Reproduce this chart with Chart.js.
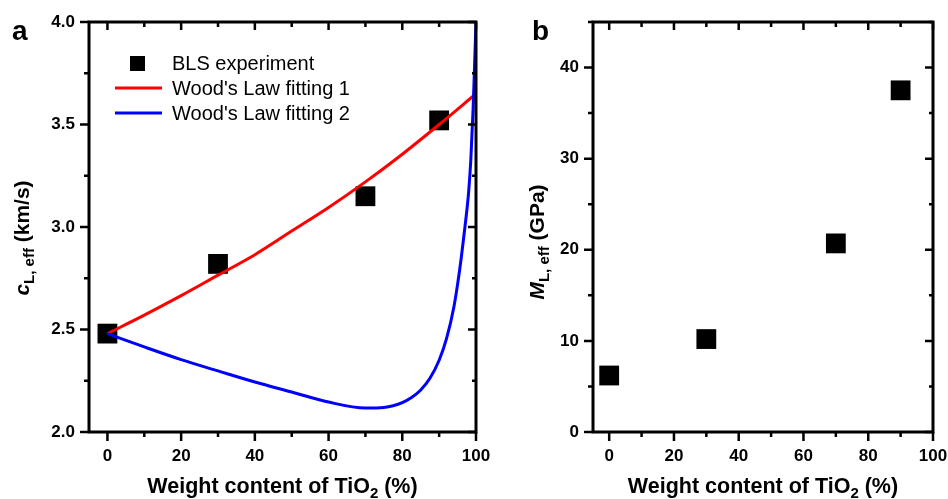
<!DOCTYPE html>
<html>
<head>
<meta charset="utf-8">
<script src="https://cdn.jsdelivr.net/npm/chart.js@4.4.0/dist/chart.umd.min.js"></script>
<style>
    html, body { margin: 0; padding: 0; background: #fff; }
    #wrapA { position: absolute; left: 0; top: 0; width: 490px; height: 499px; }
    #wrapB { position: absolute; left: 490px; top: 0; width: 458px; height: 499px; }
</style>
</head>
<body>
<div id="wrapA"><canvas id="chartA"></canvas></div>
<div id="wrapB"><canvas id="chartB"></canvas></div>
<script>
// Painel a: velocidade longitudinal efetiva
const blsX = [0, 30, 70, 90];
const blsY = [2.48, 2.82, 3.15, 3.52];
const fit1X = [0, 10, 20, 30, 40, 50, 60, 70, 80, 90, 100];
const fit1Y = [2.48, 2.57, 2.665, 2.765, 2.865, 2.98, 3.095, 3.22, 3.355, 3.50, 3.65];
const fit2X = [0, 10, 20, 30, 40, 50, 60, 70, 75, 77.5, 80, 82.5, 85, 87.5, 90, 92, 94, 95, 96, 97, 98, 98.6, 99.2, 99.6, 100];
const fit2Y = [2.48, 2.415, 2.353, 2.298, 2.244, 2.195, 2.146, 2.117, 2.12, 2.128, 2.143, 2.168, 2.205, 2.262, 2.35, 2.455, 2.61, 2.72, 2.85, 3.0, 3.17, 3.33, 3.57, 3.78, 4.0];
const xTicks = [0, 20, 40, 60, 80, 100];
const yTicksA = [2.0, 2.5, 3.0, 3.5, 4.0];

// Painel b: módulo longitudinal efetivo
const modX = [0, 30, 70, 90];
const modY = [6.2, 10.2, 20.7, 37.5];
const yTicksB = [0, 10, 20, 30, 40];

const FONT = '"Liberation Sans", Arial, sans-serif';
const tickFont = { family: FONT, size: 17, weight: 'bold' };

const pts = (xs, ys) => xs.map((x, i) => ({ x: x, y: ys[i] }));

// desenha texto com partes em itálico / subscrito
function drawSegs(ctx, segs, cx, y) {
    const widths = segs.map(s => {
        ctx.font = (s.italic ? 'italic ' : '') + 'bold ' + s.size + 'px ' + FONT;
        return ctx.measureText(s.text).width;
    });
    let x = cx - widths.reduce((a, b) => a + b, 0) / 2;
    segs.forEach((s, i) => {
        ctx.font = (s.italic ? 'italic ' : '') + 'bold ' + s.size + 'px ' + FONT;
        ctx.fillText(s.text, x, y + (s.dy || 0));
        x += widths[i];
    });
}

// moldura estilo Origin com ticks maiores e menores
const framePlugin = {
    id: 'frame',
    afterDraw(chart, args, opts) {
        const { ctx, chartArea: a, scales } = chart;
        const xs = scales.x, ys = scales.y;
        ctx.save();
        ctx.strokeStyle = '#000';
        ctx.lineWidth = 3;
        ctx.strokeRect(a.left, a.top, a.right - a.left, a.bottom - a.top);
        ctx.lineWidth = 2.5;
        ctx.beginPath();
        for (let v = 0; v <= 100.001; v += 10) {
            const px = xs.getPixelForValue(v);
            const major = xTicks.includes(Math.round(v));
            ctx.moveTo(px, a.bottom);
            ctx.lineTo(px, a.bottom + (major ? 9 : 5));
            ctx.moveTo(px, a.top);
            ctx.lineTo(px, a.top + (major ? 8 : 5));
        }
        for (let v = opts.yMin; v <= opts.yMax + 1e-6; v += opts.yMinor) {
            const py = ys.getPixelForValue(v);
            const major = opts.yMajor.some(t => Math.abs(t - v) < 1e-6);
            ctx.moveTo(a.left, py);
            ctx.lineTo(a.left - (major ? 9 : 5), py);
            ctx.moveTo(a.right, py);
            ctx.lineTo(a.right - (major ? 8 : 4), py);
        }
        ctx.stroke();

        // títulos dos eixos e letra do painel
        ctx.fillStyle = '#000';
        ctx.textBaseline = 'alphabetic';
        drawSegs(ctx, [
            { text: 'Weight content of TiO', size: 21.5 },
            { text: '2', size: 15, dy: 5 },
            { text: ' (%)', size: 21.5 }
        ], (a.left + a.right) / 2, 493);

        ctx.save();
        ctx.translate(opts.yTitleX, opts.yTitleY);
        ctx.rotate(-Math.PI / 2);
        drawSegs(ctx, opts.yTitle, 0, 0);
        ctx.restore();

        ctx.font = 'bold 28px ' + FONT;
        ctx.fillText(opts.letter, opts.letterX, 40);
        ctx.restore();
    }
};

// legenda desenhada dentro da área do gráfico (painel a)
const legendPlugin = {
    id: 'innerLegend',
    afterDraw(chart) {
        const ctx = chart.ctx;
        ctx.save();
        ctx.font = '20px ' + FONT;
        ctx.fillStyle = '#000';
        ctx.textBaseline = 'middle';
        ctx.fillRect(130, 56, 15, 15);
        ctx.fillText('BLS experiment', 172, 64);
        ctx.lineWidth = 3;
        ctx.strokeStyle = '#ff0000';
        ctx.beginPath(); ctx.moveTo(115, 88); ctx.lineTo(162, 88); ctx.stroke();
        ctx.fillText("Wood's Law fitting 1", 172, 89);
        ctx.strokeStyle = '#0000ff';
        ctx.beginPath(); ctx.moveTo(115, 113); ctx.lineTo(162, 113); ctx.stroke();
        ctx.fillText("Wood's Law fitting 2", 172, 114);
        ctx.restore();
    }
};

function axisOptions(yMin, yMax, yTicks, yWidth, fmt) {
    return {
        x: {
            type: 'linear', min: -5, max: 100,
            afterBuildTicks: s => { s.ticks = xTicks.map(v => ({ value: v })); },
            afterFit: s => { s.height = 67; s.paddingLeft = 0; s.paddingRight = 0; },
            ticks: { color: '#000', font: tickFont, padding: 14 },
            grid: { display: false, drawTicks: false },
            border: { display: false }
        },
        y: {
            type: 'linear', min: yMin, max: yMax,
            afterBuildTicks: s => { s.ticks = yTicks.map(v => ({ value: v })); },
            afterFit: s => { s.width = yWidth; s.paddingTop = 0; s.paddingBottom = 0; },
            ticks: { color: '#000', font: tickFont, padding: 14, callback: fmt },
            grid: { display: false, drawTicks: false },
            border: { display: false }
        }
    };
}

const baseOptions = {
    responsive: true,
    maintainAspectRatio: false,
    animation: false,
    events: [],
    plugins: { legend: { display: false }, tooltip: { enabled: false } }
};

new Chart(document.getElementById('chartA'), {
    type: 'scatter',
    data: {
        datasets: [
            {
                label: "Wood's Law fitting 2",
                data: pts(fit2X, fit2Y),
                showLine: true, borderColor: '#0000ff', borderWidth: 3,
                pointRadius: 0, cubicInterpolationMode: 'monotone', order: 0
            },
            {
                label: "Wood's Law fitting 1",
                data: pts(fit1X, fit1Y),
                showLine: true, borderColor: '#ff0000', borderWidth: 3,
                pointRadius: 0, cubicInterpolationMode: 'monotone', order: 1
            },
            {
                label: 'BLS experiment',
                data: pts(blsX, blsY),
                pointStyle: 'rect', pointRadius: 14,
                backgroundColor: '#000', borderColor: '#000', borderWidth: 0, order: 2
            }
        ]
    },
    options: {
        ...baseOptions,
        layout: { padding: { left: 0, right: 14, top: 22, bottom: 0 } },
        scales: axisOptions(2.0, 4.0, yTicksA, 89, v => v.toFixed(1)),
        plugins: {
            ...baseOptions.plugins,
            frame: {
                yMin: 2.0, yMax: 4.0, yMinor: 0.25, yMajor: yTicksA,
                yTitle: [
                    { text: 'c', size: 21, italic: true },
                    { text: 'L, eff', size: 15, dy: 5 },
                    { text: ' (km/s)', size: 21 }
                ],
                yTitleX: 29, yTitleY: 238, letter: 'a', letterX: 12
            }
        }
    },
    plugins: [framePlugin, legendPlugin]
});

new Chart(document.getElementById('chartB'), {
    type: 'scatter',
    data: {
        datasets: [{
            label: 'M',
            data: pts(modX, modY),
            pointStyle: 'rect', pointRadius: 14,
            backgroundColor: '#000', borderColor: '#000', borderWidth: 0
        }]
    },
    options: {
        ...baseOptions,
        layout: { padding: { left: 0, right: 15, top: 22, bottom: 0 } },
        scales: axisOptions(0, 45, yTicksB, 103, v => String(v)),
        plugins: {
            ...baseOptions.plugins,
            frame: {
                yMin: 0, yMax: 45, yMinor: 5, yMajor: yTicksB,
                yTitle: [
                    { text: 'M', size: 21, italic: true },
                    { text: 'L, eff', size: 15, dy: 5 },
                    { text: ' (GPa)', size: 21 }
                ],
                yTitleX: 54, yTitleY: 242, letter: 'b', letterX: 42
            }
        }
    },
    plugins: [framePlugin]
});
</script>
</body>
</html>
